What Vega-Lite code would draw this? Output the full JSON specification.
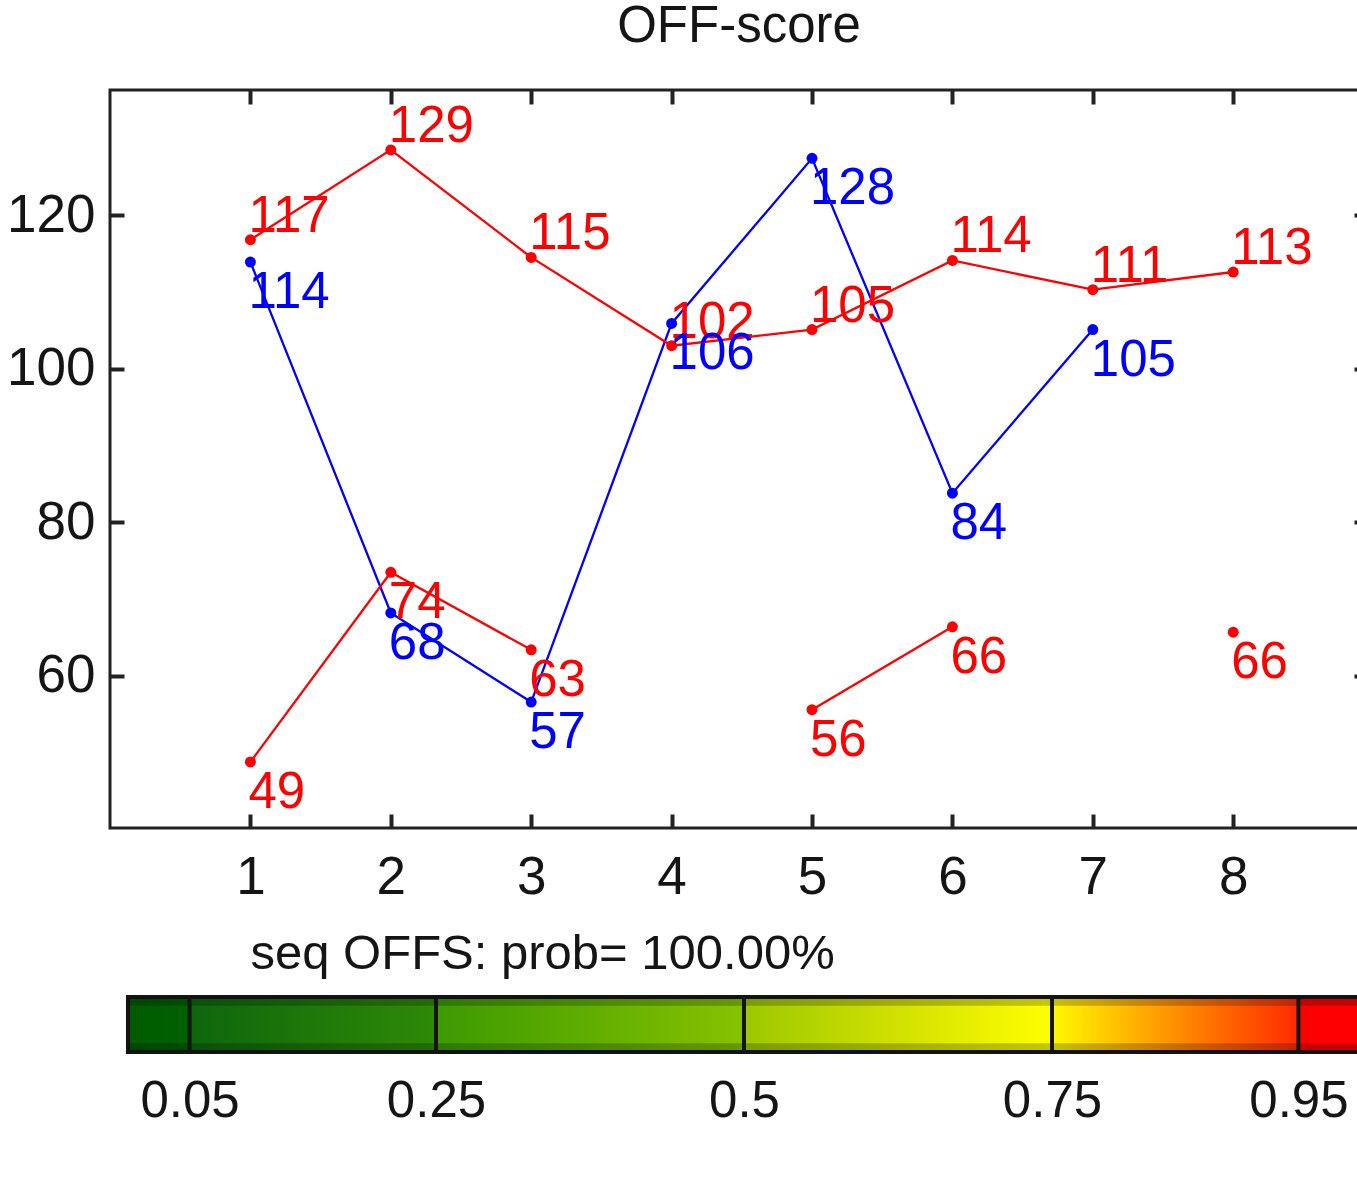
{
  "$schema": "https://vega.github.io/schema/vega-lite/v6.json",
  "background": "white",
  "padding": {"left": 5, "top": -1, "right": 0, "bottom": 0},
  "autosize": {"type": "pad"},
  "bounds": "flush",
  "spacing": 169,
  "config": {
    "font": "Liberation Sans",
    "view": {"stroke": null},
    "axis": {"labelColor": "#151515", "labelFont": "Liberation Sans", "titleFont": "Liberation Sans"}
  },
  "datasets": {
    "pts": [
      {"x": 1, "y": 113.9, "label": "114", "set": "seq1", "series": "b"},
      {"x": 2, "y": 68.2, "label": "68", "set": "seq1", "series": "b"},
      {"x": 3, "y": 56.6, "label": "57", "set": "seq1", "series": "b"},
      {"x": 4, "y": 105.9, "label": "106", "set": "seq1", "series": "b"},
      {"x": 5, "y": 127.4, "label": "128", "set": "seq1", "series": "b"},
      {"x": 6, "y": 83.8, "label": "84", "set": "seq1", "series": "b"},
      {"x": 7, "y": 105.1, "label": "105", "set": "seq1", "series": "b"},
      {"x": 1, "y": 116.8, "label": "117", "set": "seq2", "series": "r1"},
      {"x": 2, "y": 128.5, "label": "129", "set": "seq2", "series": "r1"},
      {"x": 3, "y": 114.5, "label": "115", "set": "seq2", "series": "r1"},
      {"x": 4, "y": 103.0, "label": "102", "set": "seq2", "series": "r1"},
      {"x": 5, "y": 105.1, "label": "105", "set": "seq2", "series": "r1"},
      {"x": 6, "y": 114.1, "label": "114", "set": "seq2", "series": "r1"},
      {"x": 7, "y": 110.3, "label": "111", "set": "seq2", "series": "r1"},
      {"x": 8, "y": 112.6, "label": "113", "set": "seq2", "series": "r1"},
      {"x": 1, "y": 48.8, "label": "49", "set": "seq2", "series": "r2"},
      {"x": 2, "y": 73.5, "label": "74", "set": "seq2", "series": "r2"},
      {"x": 3, "y": 63.4, "label": "63", "set": "seq2", "series": "r2"},
      {"x": 5, "y": 55.6, "label": "56", "set": "seq2", "series": "r3"},
      {"x": 6, "y": 66.4, "label": "66", "set": "seq2", "series": "r3"},
      {"x": 8, "y": 65.7, "label": "66", "set": "seq2", "series": "r4"}
    ],
    "bar": [{"lo": 0, "hi": 1}],
    "div": [{"lo": 0.05}, {"lo": 0.25}, {"lo": 0.5}, {"lo": 0.75}, {"lo": 0.95}]
  },
  "vconcat": [
    {
      "width": 1258,
      "height": 738,
      "title": {"text": "OFF-score", "fontSize": 51, "fontWeight": "normal", "baseline": "alphabetic", "offset": -5, "color": "#151515", "font": "Liberation Sans"},
      "view": {"stroke": "#222222", "strokeWidth": 3},
      "data": {"name": "pts"},
      "layer": [
        {
          "mark": {"type": "line", "strokeWidth": 2.3},
          "encoding": {
            "x": {"field": "x", "type": "quantitative", "scale": {"domain": [0, 8.96], "nice": false, "zero": false},
              "axis": {"orient": "bottom", "values": [1, 2, 3, 4, 5, 6, 7, 8], "ticks": false, "tickSize": 0, "domain": false, "grid": false, "labelFontSize": 53, "labelPadding": 65, "labelBaseline": "alphabetic",
                "title": "seq OFFS: prob= 100.00%", "titleFontSize": 49, "titleFontWeight": "normal", "titleColor": "#151515", "titleAlign": "left", "titleAnchor": "start", "titleX": 140, "titleY": 140, "titleBaseline": "alphabetic"}},
            "y": {"field": "y", "type": "quantitative", "scale": {"domain": [40.2, 136.3], "nice": false, "zero": false},
              "axis": {"orient": "left", "values": [60, 80, 100, 120], "ticks": false, "tickSize": 0, "domain": false, "grid": false, "labelFontSize": 53, "labelPadding": 15, "title": null}},
            "color": {"field": "set", "type": "nominal", "scale": {"domain": ["seq1", "seq2"], "range": ["#0000ff", "#ff0000"]}, "legend": null},
            "detail": {"field": "series"}
          }
        },
        {
          "mark": {"type": "point", "filled": true, "shape": "circle", "size": 120, "opacity": 1},
          "encoding": {
            "x": {"field": "x", "type": "quantitative",
              "axis": {"orient": "bottom", "values": [1, 2, 3, 4, 5, 6, 7, 8], "offset": -14, "tickSize": 14, "tickWidth": 4, "tickColor": "#222222", "labels": false, "domain": false, "grid": false, "title": null}},
            "y": {"field": "y", "type": "quantitative",
              "axis": {"orient": "left", "values": [60, 80, 100, 120], "offset": -14, "tickSize": 14, "tickWidth": 4, "tickColor": "#222222", "labels": false, "domain": false, "grid": false, "title": null}},
            "color": {"field": "set", "type": "nominal", "legend": null}
          }
        },
        {
          "transform": [{"filter": "datum.series === 'r1'"}],
          "mark": {"type": "text", "align": "left", "baseline": "alphabetic", "dx": -2, "dy": -8, "fontSize": 51},
          "encoding": {
            "x": {"field": "x", "type": "quantitative",
              "axis": {"orient": "top", "values": [1, 2, 3, 4, 5, 6, 7, 8], "offset": -14, "tickSize": 14, "tickWidth": 4, "tickColor": "#222222", "labels": false, "domain": false, "grid": false, "title": null}},
            "y": {"field": "y", "type": "quantitative",
              "axis": {"orient": "right", "values": [60, 80, 100, 120], "offset": -14, "tickSize": 14, "tickWidth": 4, "tickColor": "#222222", "labels": false, "domain": false, "grid": false, "title": null}},
            "text": {"field": "label"},
            "color": {"field": "set", "type": "nominal", "legend": null}
          }
        },
        {
          "transform": [{"filter": "datum.series !== 'r1'"}],
          "mark": {"type": "text", "align": "left", "baseline": "alphabetic", "dx": -2, "dy": 46, "fontSize": 51},
          "encoding": {
            "x": {"field": "x", "type": "quantitative", "axis": null},
            "y": {"field": "y", "type": "quantitative", "axis": null},
            "text": {"field": "label"},
            "color": {"field": "set", "type": "nominal", "legend": null}
          }
        }
      ],
      "resolve": {"axis": {"x": "independent", "y": "independent"}}
    },
    {
      "width": 1258,
      "height": 55,
      "view": {"stroke": null},
      "encoding": {
        "x": {"field": "lo", "type": "quantitative", "scale": {"domain": [-0.0146, 1.0065], "nice": false, "zero": false},
          "axis": {"values": [0.05, 0.25, 0.5, 0.75, 0.95], "labelExpr": "format(datum.value, '.2~f')", "ticks": false, "tickSize": 0, "domain": false, "grid": false, "labelFontSize": 51, "labelPadding": 64, "labelBaseline": "alphabetic", "labelColor": "#151515", "title": null}}
      },
      "layer": [
        {
          "data": {"name": "bar"},
          "mark": {"type": "rect", "fill": {"gradient": "linear", "x1": 0, "y1": 0, "x2": 1, "y2": 0, "stops": [
            {"offset": 0, "color": "#005a00"}, {"offset": 0.05, "color": "#006200"},
            {"offset": 0.0501, "color": "#0e660c"}, {"offset": 0.25, "color": "#2e8a06"},
            {"offset": 0.2501, "color": "#3c9a00"}, {"offset": 0.5, "color": "#86c200"},
            {"offset": 0.5001, "color": "#9cc800"}, {"offset": 0.62, "color": "#cfe000"}, {"offset": 0.75, "color": "#ffff00"},
            {"offset": 0.7501, "color": "#fff800"}, {"offset": 0.8, "color": "#ffc400"}, {"offset": 0.87, "color": "#ff7a00"}, {"offset": 0.95, "color": "#ff2a00"},
            {"offset": 0.9501, "color": "#ff0000"}, {"offset": 1, "color": "#ff0000"}]}, "stroke": "#141414", "strokeWidth": 4},
          "encoding": {
            "x2": {"field": "hi"}
          }
        },
        {
          "data": {"name": "bar"},
          "mark": {"type": "rect", "fill": {"gradient": "linear", "x1": 0, "y1": 0, "x2": 0, "y2": 1, "stops": [
            {"offset": 0, "color": "rgba(0,0,0,0.22)"}, {"offset": 0.15, "color": "rgba(0,0,0,0.22)"},
            {"offset": 0.17, "color": "rgba(0,0,0,0)"}, {"offset": 0.83, "color": "rgba(0,0,0,0)"},
            {"offset": 0.85, "color": "rgba(0,0,0,0.22)"}, {"offset": 1, "color": "rgba(0,0,0,0.22)"}]}},
          "encoding": {
            "x2": {"field": "hi"}
          }
        },
        {
          "data": {"name": "div"},
          "mark": {"type": "rule", "color": "#141414", "strokeWidth": 4},
          "encoding": {}
        }
      ]
    }
  ]
}
